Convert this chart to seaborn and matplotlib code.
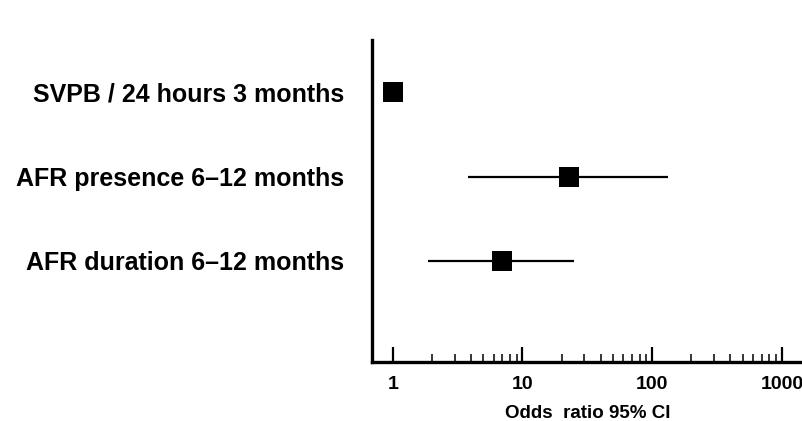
import numpy as np
import pandas as pd
import seaborn as sns
import matplotlib.pyplot as plt
from matplotlib.ticker import NullFormatter, FixedLocator

# =========================
# DATA
# =========================
labels = ["SVPB / 24 hours 3 months", "AFR presence 6\u201312 months", "AFR duration 6\u201312 months"]
odds_ratio = [1.0, 23.0, 6.9]
ci_low = [1.0, 3.8, 1.86]
ci_high = [1.0, 133.0, 25.0]
tick_vals = [1, 10, 100, 1000]
tick_labels = ["1", "10", "100", "1000"]

df = pd.DataFrame({"label": labels, "or": odds_ratio, "lo": ci_low, "hi": ci_high})
df["pos"] = np.arange(len(df))

sns.set_style("white")
plt.rcParams["font.family"] = ["Liberation Sans", "DejaVu Sans"]
plt.rcParams["text.color"] = "black"
plt.rcParams["xtick.color"] = "black"
plt.rcParams["ytick.color"] = "black"
plt.rcParams["axes.labelcolor"] = "black"

fig = plt.figure(figsize=(8.03, 4.21), dpi=100)
ax = fig.add_axes([0.463, 0.140, 0.537, 0.765])

# confidence intervals
ax.hlines(df["pos"], df["lo"], df["hi"], color="black", linewidth=1.6, zorder=2)
sns.scatterplot(data=df, x="or", y="pos", marker="s", s=190, color="black",
                edgecolor="black", linewidth=0, ax=ax, zorder=3, legend=False)

ax.set_xscale("log")
ax.set_xlim(0.69, 1450)
ax.set_ylim(3.2, -0.62)

ax.set_yticks(df["pos"])
ax.set_yticklabels(df["label"], fontsize=18, fontweight="bold")
ax.tick_params(axis="y", length=0, pad=20)

# minor ticks 2..9 in each decade from 1 to 1000
minor_ticks = [m * 10 ** d for d in range(3) for m in range(2, 10)]
ax.xaxis.set_major_locator(FixedLocator(tick_vals))
ax.set_xticklabels(tick_labels, fontsize=14, fontweight="bold")
ax.xaxis.set_minor_locator(FixedLocator(minor_ticks))
ax.xaxis.set_minor_formatter(NullFormatter())
ax.tick_params(axis="x", which="both", bottom=True, direction="in")
ax.tick_params(axis="x", which="major", length=11, width=1.6, pad=10)
ax.tick_params(axis="x", which="minor", length=5.5, width=1.1)

ax.set_xlabel("Odds  ratio 95% CI", fontsize=13.5, fontweight="bold", labelpad=9)
ax.set_ylabel("")

for side in ["top", "right"]:
    ax.spines[side].set_visible(False)
for side in ["left", "bottom"]:
    ax.spines[side].set_linewidth(2.4)
    ax.spines[side].set_color("black")

fig.savefig("out.png", dpi=100)
